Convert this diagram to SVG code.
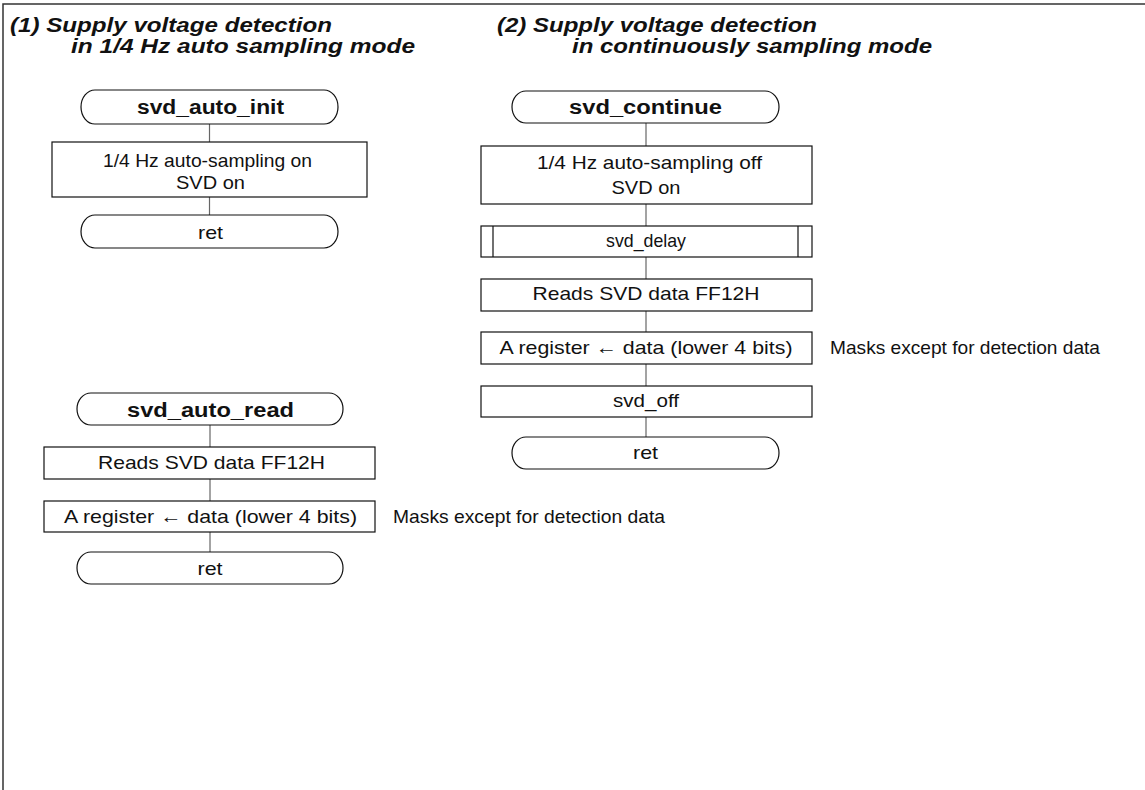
<svg xmlns="http://www.w3.org/2000/svg" width="1145" height="790" viewBox="0 0 1145 790">
<style>
.frame{fill:none;stroke:#333;stroke-width:1.5}
.box{fill:#fff;stroke:#111;stroke-width:1.2}
.conn{stroke:#666;stroke-width:1.2;fill:none}
.t{font-family:"Liberation Sans",Arial,sans-serif;font-size:18.5px;fill:#111;text-anchor:middle}
.tb{font-family:"Liberation Sans",Arial,sans-serif;font-size:20px;font-weight:bold;fill:#111;text-anchor:middle}
.note{font-family:"Liberation Sans",Arial,sans-serif;font-size:18.5px;fill:#111}
.title{font-family:"Liberation Sans",Arial,sans-serif;font-size:20px;font-weight:bold;font-style:italic;fill:#111}
</style>
<rect width="1145" height="790" fill="#fff"/>
<path class="frame" d="M3,790 V4 H1145"/>
<g id="titles">
<text class="title" x="10" y="32" textLength="322" lengthAdjust="spacingAndGlyphs">(1) Supply voltage detection</text>
<text class="title" x="71" y="53" textLength="344" lengthAdjust="spacingAndGlyphs">in 1/4 Hz auto sampling mode</text>
<text class="title" x="497" y="32" textLength="320" lengthAdjust="spacingAndGlyphs">(2) Supply voltage detection</text>
<text class="title" x="572" y="53" textLength="360" lengthAdjust="spacingAndGlyphs">in continuously sampling mode</text>
</g>
<g id="connectors">
<line class="conn" x1="209.5" y1="124" x2="209.5" y2="142"/>
<line class="conn" x1="209.5" y1="197" x2="209.5" y2="215"/>
<line class="conn" x1="210" y1="425" x2="210" y2="447"/>
<line class="conn" x1="210" y1="479" x2="210" y2="501"/>
<line class="conn" x1="210" y1="532" x2="210" y2="552"/>
<line class="conn" x1="646" y1="123" x2="646" y2="146"/>
<line class="conn" x1="646" y1="204" x2="646" y2="226"/>
<line class="conn" x1="646" y1="257" x2="646" y2="279"/>
<line class="conn" x1="646" y1="311" x2="646" y2="332"/>
<line class="conn" x1="646" y1="364" x2="646" y2="386"/>
<line class="conn" x1="646" y1="417" x2="646" y2="437"/>
</g>
<g id="svd_auto_init">
<rect class="box" x="81" y="90" width="257" height="34" rx="14" ry="17"/>
<text class="tb" x="210.5" y="114" textLength="147" lengthAdjust="spacingAndGlyphs">svd_auto_init</text>
</g>
<g id="init_box">
<rect class="box" x="52" y="142" width="315" height="55"/>
<text class="t" x="207.5" y="167" textLength="209" lengthAdjust="spacingAndGlyphs">1/4 Hz auto-sampling on</text>
<text class="t" x="210.5" y="189" textLength="69" lengthAdjust="spacingAndGlyphs">SVD on</text>
</g>
<g id="init_ret">
<rect class="box" x="81" y="215" width="257" height="33" rx="14" ry="16.5"/>
<text class="t" x="210.5" y="239" textLength="25" lengthAdjust="spacingAndGlyphs">ret</text>
</g>
<g id="svd_auto_read">
<rect class="box" x="77" y="393" width="266" height="32" rx="14" ry="16"/>
<text class="tb" x="210.5" y="417" textLength="167" lengthAdjust="spacingAndGlyphs">svd_auto_read</text>
</g>
<g id="read_reads">
<rect class="box" x="44" y="447" width="331" height="32"/>
<text class="t" x="211.5" y="469" textLength="227" lengthAdjust="spacingAndGlyphs">Reads SVD data FF12H</text>
</g>
<g id="read_areg">
<rect class="box" x="44" y="501" width="331" height="31"/>
<text class="t" x="210.5" y="523" textLength="293" lengthAdjust="spacingAndGlyphs">A register ← data (lower 4 bits)</text>
</g>
<g id="read_ret">
<rect class="box" x="77" y="552" width="266" height="32" rx="14" ry="16"/>
<text class="t" x="210" y="575" textLength="25" lengthAdjust="spacingAndGlyphs">ret</text>
</g>
<g id="read_note">
<text class="note" x="393" y="523" textLength="272" lengthAdjust="spacingAndGlyphs">Masks except for detection data</text>
</g>
<g id="svd_continue">
<rect class="box" x="512" y="91" width="267" height="32" rx="14" ry="16"/>
<text class="tb" x="645.5" y="114" textLength="153" lengthAdjust="spacingAndGlyphs">svd_continue</text>
</g>
<g id="cont_box">
<rect class="box" x="481" y="146" width="331" height="58"/>
<text class="t" x="649.5" y="169" textLength="225" lengthAdjust="spacingAndGlyphs">1/4 Hz auto-sampling off</text>
<text class="t" x="646" y="194" textLength="69" lengthAdjust="spacingAndGlyphs">SVD on</text>
</g>
<g id="cont_delay">
<rect class="box" x="481" y="226" width="331" height="31"/>
<line class="box" x1="493" y1="226" x2="493" y2="257"/>
<line class="box" x1="798" y1="226" x2="798" y2="257"/>
<text class="t" x="646" y="247" textLength="80" lengthAdjust="spacingAndGlyphs">svd_delay</text>
</g>
<g id="cont_reads">
<rect class="box" x="481" y="279" width="331" height="32"/>
<text class="t" x="646" y="300" textLength="227" lengthAdjust="spacingAndGlyphs">Reads SVD data FF12H</text>
</g>
<g id="cont_areg">
<rect class="box" x="481" y="332" width="331" height="32"/>
<text class="t" x="646" y="354" textLength="293" lengthAdjust="spacingAndGlyphs">A register ← data (lower 4 bits)</text>
</g>
<g id="cont_off">
<rect class="box" x="481" y="386" width="331" height="31"/>
<text class="t" x="646" y="407" textLength="66" lengthAdjust="spacingAndGlyphs">svd_off</text>
</g>
<g id="cont_ret">
<rect class="box" x="512" y="437" width="267" height="32" rx="14" ry="16"/>
<text class="t" x="645.5" y="459" textLength="25" lengthAdjust="spacingAndGlyphs">ret</text>
</g>
<g id="cont_note">
<text class="note" x="830" y="354" textLength="270" lengthAdjust="spacingAndGlyphs">Masks except for detection data</text>
</g>
</svg>
